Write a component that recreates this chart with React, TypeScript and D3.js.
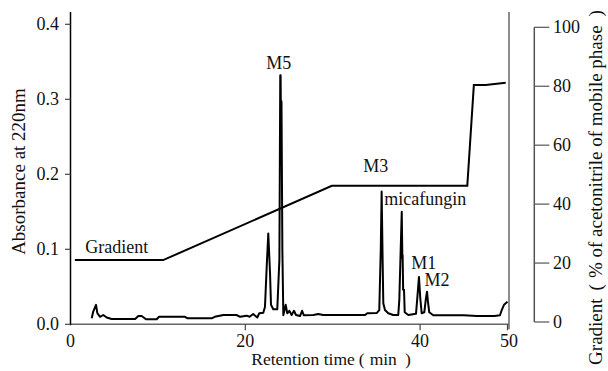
import React from "react";
import * as d3 from "d3";

// Chromatogram (retention time in min, absorbance at 220nm)
const chromTime = [
  2.43, 2.6, 2.92, 3.07, 3.38, 3.75, 4.14, 4.7, 7.4, 7.76, 8.14, 8.64, 9.86, 10.13, 13.1, 13.4,
  16.15, 16.5, 17.5, 19.0, 19.4, 20.15, 20.5, 20.9, 21.37, 21.6, 22.06, 22.25, 22.45, 22.63, 22.83,
  22.94, 23.2, 23.66, 23.9, 24.0, 24.04, 24.06, 24.14, 24.24, 24.35, 24.62, 24.8, 25.03, 25.3, 25.57,
  25.8, 26.26, 26.5, 26.7, 27.8, 28.35, 28.9, 33.7, 33.96, 35.03, 35.33, 35.5, 35.6, 35.72, 35.79,
  35.98, 36.36, 36.93, 37.5, 37.62, 37.9, 37.97, 38.0, 38.06, 38.16, 38.24, 38.65, 39.53, 39.68,
  39.87, 40.02, 40.18, 40.48, 40.67, 40.79, 40.9, 41.05, 41.5, 45.0, 46.5, 48.5, 49.14, 49.34, 49.6,
  49.9, 50.0,
];
const chromAbs = [
  0.008, 0.017, 0.026, 0.015, 0.01, 0.0124, 0.009, 0.007, 0.007, 0.011, 0.011, 0.0067, 0.0067, 0.01,
  0.01, 0.008, 0.008, 0.01, 0.0124, 0.0124, 0.01, 0.0115, 0.01, 0.0137, 0.009, 0.0147, 0.0155, 0.023,
  0.077, 0.121, 0.068, 0.026, 0.02, 0.02, 0.086, 0.332, 0.332, 0.299, 0.297, 0.1, 0.012, 0.026,
  0.0147, 0.018, 0.0124, 0.018, 0.0124, 0.011, 0.018, 0.012, 0.0124, 0.0137, 0.0124, 0.0124, 0.0147,
  0.015, 0.019, 0.1, 0.177, 0.08, 0.028, 0.019, 0.0147, 0.0124, 0.0124, 0.032, 0.15, 0.088, 0.092,
  0.046, 0.046, 0.016, 0.0124, 0.014, 0.035, 0.063, 0.035, 0.0147, 0.016, 0.035, 0.0435, 0.03, 0.016,
  0.012, 0.012, 0.011, 0.011, 0.012, 0.019, 0.026, 0.029, 0.03,
];

// Gradient program (% acetonitrile)
const gradTime = [0.5, 10.6, 29.9, 45.4, 46.15, 47.5, 49.8];
const gradPct = [21, 21, 46.2, 46.2, 80.4, 80.4, 81.2];

const xTicks = [0, 20, 40, 50];
const yTicks = [0, 0.1, 0.2, 0.3, 0.4];
const rTicks = [0, 20, 40, 60, 80, 100];

const peakLabels = ["M5", "M3", "micafungin", "M1", "M2", "Gradient"];
const peakLabelTime = [22.4, 33.5, 35.9, 39.0, 40.5, 1.7];
const peakLabelAbs = [0.341, 0.203, 0.159, 0.074, 0.051, 0.095];

const FONT = "'Liberation Serif', 'Times New Roman', serif";
const FS = 18;

export default function App() {
  const x = d3.scaleLinear().domain([0, 50]).range([70.5, 507.5]);
  const y = d3.scaleLinear().domain([0, 0.4]).range([324.3, 24.3]);
  const yr = d3.scaleLinear().domain([0, 100]).range([322, 27.3]);

  const chromData = chromTime.map((t, i) => [t, chromAbs[i]] as [number, number]);
  const gradData = gradTime.map((t, i) => [t, gradPct[i]] as [number, number]);

  const chromLine = d3.line<[number, number]>().x((d) => x(d[0])).y((d) => y(d[1]));
  const gradLine = d3.line<[number, number]>().x((d) => x(d[0])).y((d) => yr(d[1]));

  const axisTop = 12;
  const x0 = x(0);
  const xEnd = x(50) + 1.5;
  const yBase = y(0);
  const rAxisX = 534.3;

  return (
    <svg
      width={608}
      height={371}
      style={{ position: "absolute", left: 0, top: 0, background: "#fff" }}
      fontFamily={FONT}
    >
      <rect width={608} height={371} fill="#fff" />
      {/* bottom axis */}
      <line x1={x0} x2={xEnd} y1={yBase} y2={yBase} stroke="#666" strokeWidth={1.5} />
      {xTicks.map((t) => (
        <g key={"xt" + t}>
          {t > 0 && (
            <line x1={x(t)} x2={x(t)} y1={yBase} y2={yBase + 6} stroke="#444" strokeWidth={1.2} />
          )}
          <text x={t === 50 ? xEnd : x(t)} y={346.5} fontSize={FS} textAnchor="middle" fill="#111">
            {t}
          </text>
        </g>
      ))}
      <text x={331} y={365} fontSize={17.5} textAnchor="middle" fill="#111">
        Retention time
        <tspan dx={4}>(</tspan>
        <tspan dx={5}>min</tspan>
        <tspan dx={8}>)</tspan>
      </text>

      {/* left axis */}
      <line x1={x0} x2={x0} y1={axisTop} y2={yBase + 1} stroke="#000" strokeWidth={1.5} />
      {yTicks.map((v) => (
        <g key={"yt" + v}>
          <line x1={x0 - 5.5} x2={x0} y1={y(v)} y2={y(v)} stroke="#444" strokeWidth={1.2} />
          <text x={59} y={y(v)} dy="0.34em" fontSize={FS} textAnchor="end" fill="#111">
            {v.toFixed(1)}
          </text>
        </g>
      ))}
      <text
        transform={`translate(25,171.5) rotate(-90)`}
        fontSize={19}
        textAnchor="middle"
        fill="#111"
      >
        Absorbance at 220nm
      </text>

      {/* right frame */}
      <line x1={xEnd} x2={xEnd} y1={axisTop} y2={yBase + 5} stroke="#666" strokeWidth={1.5} />

      {/* right gradient axis */}
      <line x1={rAxisX} x2={rAxisX} y1={yr(100)} y2={yr(0)} stroke="#555" strokeWidth={1.5} />
      {rTicks.map((v) => (
        <g key={"rt" + v}>
          <line x1={rAxisX} x2={rAxisX + 15} y1={yr(v)} y2={yr(v)} stroke="#555" strokeWidth={1.2} />
          <text x={553} y={yr(v)} dy="0.34em" fontSize={FS} textAnchor="start" fill="#111">
            {v}
          </text>
        </g>
      ))}
      <text
        transform={`translate(601.5,187.5) rotate(-90)`}
        fontSize={19}
        textAnchor="middle"
        fill="#111"
      >
        Gradient
        <tspan dx={8}>(</tspan>
        <tspan dx={6}>% of acetonitrile of mobile phase</tspan>
        <tspan dx={9}>)</tspan>
      </text>

      {/* data */}
      <path d={gradLine(gradData) || ""} fill="none" stroke="#000" strokeWidth={2} strokeLinejoin="miter" />
      <path d={chromLine(chromData) || ""} fill="none" stroke="#000" strokeWidth={2} strokeLinejoin="round" />

      {peakLabels.map((lab, i) => (
        <text
          key={lab}
          x={x(peakLabelTime[i])}
          y={y(peakLabelAbs[i])}
          fontSize={FS}
          textAnchor="start"
          fill="#111"
        >
          {lab}
        </text>
      ))}
    </svg>
  );
}
